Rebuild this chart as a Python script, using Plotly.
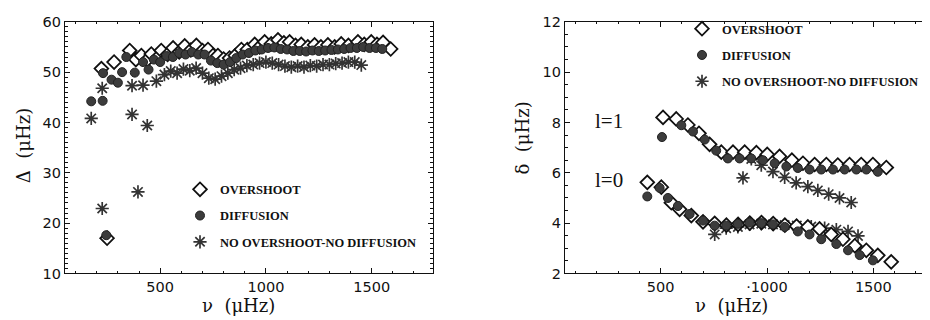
import plotly.graph_objects as go

# ---------------- Left panel: large separation Delta ----------------
nu_over_L = [222, 249, 282, 356, 385, 411, 440, 458, 490, 505, 535, 561, 590, 616, 645, 671,
             700, 726, 750, 773, 800, 828, 855, 884, 912, 947, 970, 994, 1025, 1057, 1085,
             1112, 1140, 1167, 1198, 1230, 1260, 1293, 1325, 1356, 1390, 1435, 1465, 1498,
             1525, 1554, 1590]
dl_over_L = [50.7, 17.0, 52.0, 54.3, 52.5, 53.3, 52.5, 53.6, 53.0, 54.3, 53.5, 54.8, 54.0, 55.2,
             54.4, 55.3, 54.3, 54.5, 53.3, 53.3, 52.6, 52.8, 53.3, 54.5, 54.5, 55.5, 55.0, 56.0,
             55.6, 56.4, 55.8, 56.0, 55.3, 55.5, 55.0, 55.4, 55.0, 55.4, 55.0, 55.6, 55.3, 56.0,
             55.5, 56.0, 55.5, 55.9, 54.6]

nu_diff_L = [174, 228, 230, 245, 270, 300, 320, 340, 380, 419, 445, 470, 500, 530, 560, 590,
             620, 650, 680, 710, 740, 770, 800, 830, 860, 890, 920, 950, 980, 1010, 1040, 1070,
             1100, 1130, 1160, 1190, 1220, 1250, 1280, 1310, 1340, 1370, 1400, 1430, 1460,
             1490, 1520, 1550]
dl_diff_L = [44.2, 44.3, 49.8, 17.6, 48.5, 47.9, 50.0, 53.0, 49.9, 52.0, 50.5, 52.5, 52.0, 53.2,
             53.0, 53.8, 53.5, 54.0, 53.5, 53.5, 52.3, 51.8, 51.5, 52.0, 52.8, 53.5, 53.8, 54.3,
             54.5, 54.8, 54.9, 54.6, 54.5, 54.2, 54.2, 54.1, 54.3, 54.2, 54.3, 54.4, 54.5, 54.6,
             54.8, 54.8, 55.0, 54.8, 54.8, 54.6]

nu_none_L = [174, 226, 226, 367, 367, 395, 419, 439, 482, 520, 550, 580, 610, 640, 670, 700,
             730, 760, 790, 820, 850, 880, 910, 940, 970, 1000, 1030, 1060, 1090, 1120, 1150,
             1180, 1210, 1240, 1270, 1300, 1330, 1360, 1390, 1420, 1451]
dl_none_L = [40.8, 46.8, 22.9, 41.6, 47.3, 26.2, 47.4, 39.4, 48.2, 49.5, 50.2, 49.8, 50.6, 50.3,
             50.8, 49.8, 48.8, 48.6, 49.2, 49.8, 50.5, 50.8, 51.3, 51.5, 51.8, 52.0, 51.8, 51.5,
             51.2, 51.0, 51.2, 51.0, 51.3, 51.2, 51.5, 51.5, 51.7, 51.8, 52.0, 52.0, 51.4]

# ---------------- Right panel: small separation delta ----------------
nu_over_l1 = [511, 573, 628, 680, 730, 785, 840, 895, 950, 1001, 1059, 1117, 1169, 1224, 1279,
              1333, 1388, 1443, 1498, 1561]
sd_over_l1 = [8.20, 8.14, 7.90, 7.57, 7.13, 6.82, 6.82, 6.82, 6.80, 6.73, 6.65, 6.50, 6.38, 6.33,
              6.33, 6.31, 6.33, 6.33, 6.33, 6.21]
nu_diff_l1 = [506, 597, 652, 707, 761, 816, 871, 926, 981, 1036, 1091, 1145, 1200, 1255, 1310,
              1365, 1420, 1467, 1521]
sd_diff_l1 = [7.42, 7.89, 7.64, 7.32, 6.88, 6.57, 6.57, 6.57, 6.50, 6.38, 6.25, 6.19, 6.13, 6.13,
              6.13, 6.13, 6.13, 6.13, 6.04]
nu_none_l1 = [887, 926, 973, 1028, 1083, 1137, 1192, 1239, 1290, 1341, 1396]
sd_none_l1 = [5.80, 6.55, 6.30, 6.05, 5.82, 5.60, 5.45, 5.30, 5.15, 5.00, 4.82]

nu_over_l0 = [437, 503, 550, 589, 644, 699, 754, 809, 864, 919, 974, 1029, 1084, 1139, 1192,
              1247, 1302, 1357, 1413, 1467, 1521, 1584]
sd_over_l0 = [5.62, 5.43, 4.81, 4.55, 4.30, 4.05, 3.99, 3.92, 3.95, 4.00, 4.02, 3.98, 3.92,
              3.88, 3.85, 3.77, 3.55, 3.36, 3.10, 2.92, 2.72, 2.46]
nu_diff_l0 = [437, 495, 534, 581, 636, 699, 754, 808, 863, 918, 973, 1028, 1083, 1145, 1200,
              1255, 1326, 1381, 1436, 1498]
sd_diff_l0 = [5.06, 5.40, 5.00, 4.68, 4.36, 4.10, 3.90, 3.90, 3.97, 4.02, 4.00, 3.95, 3.85,
              3.67, 3.55, 3.36, 3.17, 2.92, 2.73, 2.52]
nu_none_l0 = [754, 808, 863, 918, 973, 1028, 1083, 1140, 1208, 1271, 1326, 1381, 1428]
sd_none_l0 = [3.55, 3.80, 3.85, 3.95, 3.98, 3.95, 3.92, 3.90, 3.86, 3.80, 3.74, 3.67, 3.49]

names = ["OVERSHOOT", "DIFFUSION", "NO OVERSHOOT-NO DIFFUSION"]
x_ticks = [500, 1000, 1500]
x_ticktext_L = ["500", "1000", "1500"]
x_ticktext_R = ["500", "\u00b71000", "1500"]
y_ticks_L = [10, 20, 30, 40, 50, 60]
y_ticks_R = [2, 4, 6, 8, 10, 12]

# ---------------- styles ----------------
mk_over = dict(symbol="diamond", size=10.5, color="white", line=dict(color="#111", width=1.8))
mk_diff = dict(symbol="circle", size=9, color="#3c3c3c", line=dict(color="#222", width=1))
mk_none = dict(symbol="asterisk-open", size=11, color="#333", line=dict(color="#333", width=1.7))
styles = [mk_over, mk_diff, mk_none]

fig = go.Figure()

left_sets = [(nu_over_L, dl_over_L), (nu_diff_L, dl_diff_L), (nu_none_L, dl_none_L)]
order = [2, 0, 1]
for i in order:
    xs, ys = left_sets[i]
    fig.add_trace(go.Scatter(x=xs, y=ys, mode="markers", marker=styles[i], name=names[i],
                             xaxis="x", yaxis="y", legend="legend", legendgroup="L%d" % i,
                             legendrank=i + 1, showlegend=True))

right_sets = [
    [(nu_over_l1, sd_over_l1), (nu_over_l0, sd_over_l0)],
    [(nu_diff_l1, sd_diff_l1), (nu_diff_l0, sd_diff_l0)],
    [(nu_none_l1, sd_none_l1), (nu_none_l0, sd_none_l0)],
]
for i in order:
    for k, (xs, ys) in enumerate(right_sets[i]):
        fig.add_trace(go.Scatter(x=xs, y=ys, mode="markers", marker=styles[i], name=names[i],
                                 xaxis="x2", yaxis="y2", legend="legend2",
                                 legendgroup="R%d" % i, legendrank=i + 1,
                                 showlegend=(k == 0)))

W, H = 930, 320
def px_x(p):
    return p / W
def px_y(p):
    return 1 - p / H

tickfont = dict(family="DejaVu Sans, Liberation Sans, Arial, sans-serif", size=14.5, color="#111")
axis_common = dict(showline=True, linecolor="#111", linewidth=1.2, mirror="ticks",
                   ticks="inside", ticklen=5, tickwidth=1, tickcolor="#111",
                   showgrid=False, zeroline=False, tickfont=tickfont,
                   ticklabeloverflow="allow")

fig.update_layout(
    width=W, height=H, margin=dict(l=0, r=0, t=0, b=0),
    paper_bgcolor="white", plot_bgcolor="white",
    xaxis=dict(domain=[px_x(57), px_x(425)], range=[50, 1790], tickvals=x_ticks,
               ticktext=x_ticktext_L, anchor="y",
               minor=dict(dtick=100, tick0=0, ticklen=2.5, ticks="inside", tickcolor="#111"),
               **axis_common),
    yaxis=dict(domain=[px_y(271), px_y(6)], range=[10, 60.02], tickvals=y_ticks_L, anchor="x",
               minor=dict(dtick=1, tick0=0, ticklen=2.5, ticks="inside", tickcolor="#111"),
               **axis_common),
    xaxis2=dict(domain=[px_x(557), px_x(927)], range=[50, 1790], tickvals=x_ticks,
                ticktext=x_ticktext_R, anchor="y2",
                minor=dict(dtick=100, tick0=0, ticklen=2.5, ticks="inside", tickcolor="#111"),
                **axis_common),
    yaxis2=dict(domain=[px_y(271), px_y(6)], range=[2, 12.004], tickvals=y_ticks_R, anchor="x2",
                minor=dict(dtick=0.5, tick0=0, ticklen=2.5, ticks="inside", tickcolor="#111"),
                **axis_common),
    showlegend=True,
)

legend_font = dict(family="Liberation Serif, DejaVu Serif, serif", size=12.5, color="#111",
                   weight="bold")
common_leg = dict(bgcolor="rgba(0,0,0,0)", borderwidth=0, font=legend_font,
                  traceorder="grouped", tracegroupgap=7, itemsizing="trace",
                  xanchor="left", yanchor="top", itemwidth=30)
fig.update_layout(
    legend=dict(x=px_x(172), y=px_y(167), **common_leg),
    legend2=dict(x=px_x(674), y=px_y(-2), **common_leg),
)

serif = "DejaVu Serif, Liberation Serif, serif"
title_font = dict(family=serif, size=18, color="#111")
ann = [
    dict(text="\u03bd  (\u03bcHz)", x=px_x(230), y=px_y(305), xref="paper", yref="paper",
         showarrow=False, font=title_font, xanchor="center", yanchor="middle"),
    dict(text="\u03bd  (\u03bcHz)", x=px_x(723), y=px_y(305), xref="paper", yref="paper",
         showarrow=False, font=title_font, xanchor="center", yanchor="middle"),
    dict(text="\u0394  (\u03bcHz)", x=px_x(15), y=px_y(137), xref="paper", yref="paper",
         showarrow=False, font=title_font, textangle=-90, xanchor="center", yanchor="middle"),
    dict(text="\u03b4  (\u03bcHz)", x=px_x(515), y=px_y(129), xref="paper", yref="paper",
         showarrow=False, font=title_font, textangle=-90, xanchor="center", yanchor="middle"),
    dict(text="l=1", x=px_x(601), y=px_y(110), xref="paper", yref="paper",
         showarrow=False, font=dict(family="Liberation Serif, serif", size=21, color="#111"),
         xanchor="center", yanchor="middle"),
    dict(text="l=0", x=px_x(601), y=px_y(173), xref="paper", yref="paper",
         showarrow=False, font=dict(family="Liberation Serif, serif", size=21, color="#111"),
         xanchor="center", yanchor="middle"),
]
fig.update_layout(annotations=ann)

fig.write_html("out.html")
